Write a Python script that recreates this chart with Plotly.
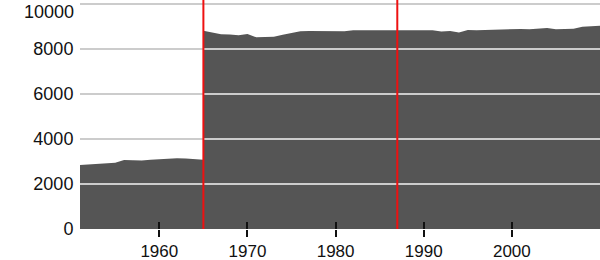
import plotly.graph_objects as go

# ---- data ----
years_before = list(range(1951, 1966))
values_before = [2840, 2860, 2900, 2920, 2950, 3070, 3060, 3040, 3080, 3110,
                 3130, 3140, 3130, 3090, 3080]

years_after = list(range(1965, 2011))
values_after = [8815, 8740, 8660, 8650, 8610, 8670, 8520, 8530, 8550, 8640,
                8730, 8790, 8800, 8800, 8790, 8800, 8790, 8830, 8830, 8845,
                8850, 8855, 8860, 8855, 8850, 8845, 8840, 8780, 8800, 8740,
                8850, 8840, 8855, 8860, 8870, 8880, 8890, 8880, 8920, 8940,
                8880, 8880, 8900, 8990, 9010, 9030]

event_years = [1965, 1987]

x_ticks = [1960, 1970, 1980, 1990, 2000]
x_tick_labels = ["1960", "1970", "1980", "1990", "2000"]
y_ticks = [0, 2000, 4000, 6000, 8000, 10000]
y_tick_labels = ["0", "2000", "4000", "6000", "8000", "10000"]
grid_values = [2000, 4000, 6000, 8000, 10000]

x_range = [1951, 2010]
y_range = [0, 10180]

AREA = "#555555"
GRID = "#cccccc"
RED = "#ee1111"
FONT = dict(family="Liberation Sans, Arial, sans-serif", size=18, color="#111111")
XFONT = dict(family="Liberation Sans, Arial, sans-serif", size=17, color="#111111")

fig = go.Figure()
fig.add_trace(go.Scatter(x=years_before, y=values_before, mode="lines",
                         line=dict(width=0, color=AREA), fill="tozeroy",
                         fillcolor=AREA, xaxis="x", yaxis="y",
                         hoverinfo="skip", showlegend=False))
fig.add_trace(go.Scatter(x=years_after, y=values_after, mode="lines",
                         line=dict(width=0, color=AREA), fill="tozeroy",
                         fillcolor=AREA, xaxis="x2", yaxis="y",
                         hoverinfo="skip", showlegend=False))

for g in grid_values:
    fig.add_shape(type="line", xref="paper", x0=0, x1=1, yref="y", y0=g, y1=g,
                  line=dict(color=GRID, width=2), layer="above")
for ev in event_years:
    fig.add_shape(type="line", xref="x", x0=ev, x1=ev, yref="paper", y0=0, y1=1,
                  line=dict(color=RED, width=2), layer="above")

# top y label is nudged down inside the figure (as in the reference)
fig.add_annotation(text=y_tick_labels[-1], xref="paper", x=0, yref="y",
                   y=y_ticks[-1], xanchor="right", yanchor="middle",
                   xshift=-4, yshift=-8, showarrow=False, font=FONT)

fig.update_layout(
    width=600, height=260,
    margin=dict(l=80, r=0, t=0, b=31, autoexpand=False),
    paper_bgcolor="white", plot_bgcolor="white",
    font=FONT,
    showlegend=False,
    xaxis=dict(range=x_range, tickmode="array", tickvals=x_ticks,
               ticktext=x_tick_labels,
               ticks="outside", ticklen=7, tickwidth=1.5, tickcolor="#111",
               showgrid=False, zeroline=False, showline=False,
               tickfont=XFONT, ticklabelstandoff=0,
               ticklabeloverflow="allow", automargin=False),
    xaxis2=dict(range=x_range, overlaying="x", anchor="y", side="bottom",
                tickmode="array", tickvals=x_ticks, ticks="inside",
                ticklen=7, tickwidth=1.5, tickcolor="#111",
                showticklabels=False, showgrid=False, zeroline=False,
                showline=False, layer="above traces", automargin=False),
    yaxis=dict(range=y_range, tickmode="array", tickvals=y_ticks[:-1],
               ticktext=y_tick_labels[:-1],
               ticks="outside", ticklen=2, tickcolor="rgba(0,0,0,0)",
               showgrid=False, zeroline=False, showline=False,
               tickfont=FONT, ticklabeloverflow="allow", automargin=False),
)

fig.write_html("out.html")
